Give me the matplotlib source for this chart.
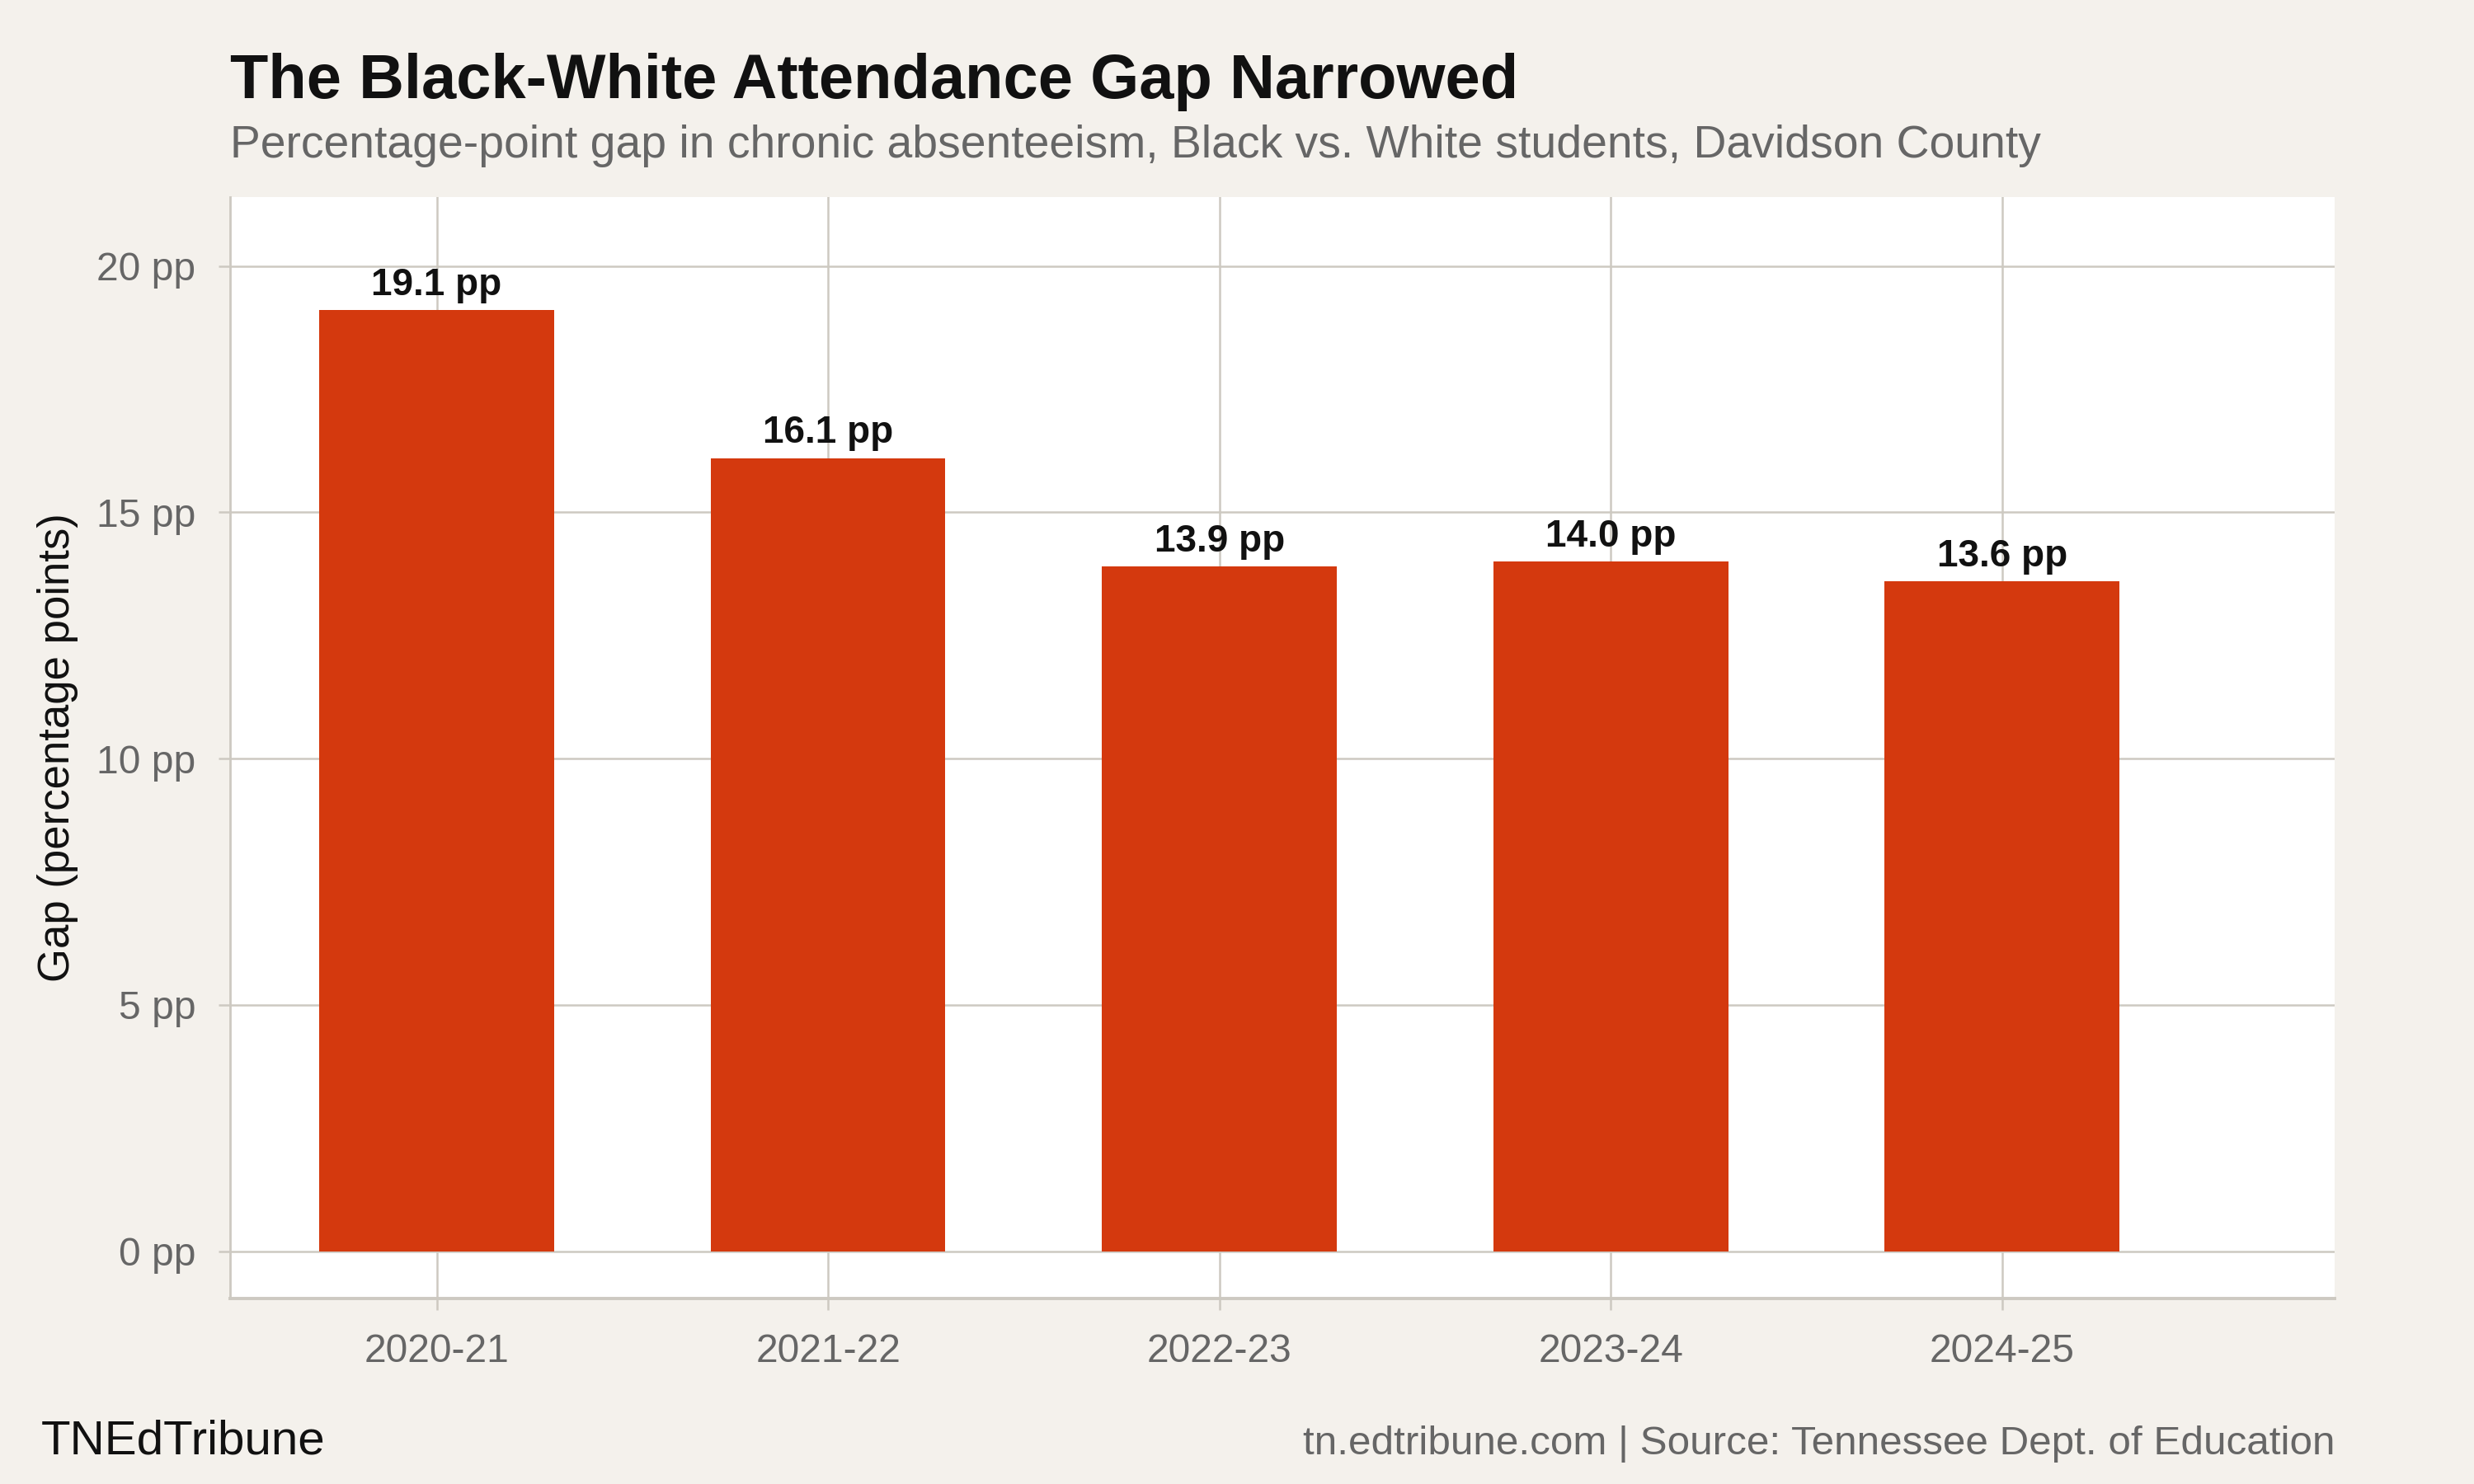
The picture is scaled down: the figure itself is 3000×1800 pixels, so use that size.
import matplotlib
matplotlib.use("Agg")
import matplotlib.pyplot as plt
import numpy as np

plt.rcParams["font.family"] = ["Liberation Sans", "DejaVu Sans"]

# Data
years = ["2020-21", "2021-22", "2022-23", "2023-24", "2024-25"]
gap_pp = [19.1, 16.1, 13.9, 14.0, 13.6]
y_ticks = [0, 5, 10, 15, 20]

BG = "#F4F1EC"
BAR = "#D4390E"
GRID = "#CDC9C1"
DARK = "#111111"
GRAY = "#666666"

fig = plt.figure(figsize=(15, 9), dpi=200, facecolor=BG)
ax = fig.add_axes([0.093, 0.125, 0.8507, 0.7422])
ax.set_facecolor("white")

x = np.arange(len(years))
bars = ax.bar(x, gap_pp, width=0.6, color=BAR, zorder=3)

for xi, v in zip(x, gap_pp):
    ax.annotate(f"{v:.1f} pp", (xi, v), xytext=(0, 3), textcoords="offset points",
                ha="center", va="bottom", fontsize=16.5, fontweight="bold", color=DARK)

ax.set_xlim(-0.528, 4.85)
ax.set_ylim(-0.96, 21.4)
ax.set_xticks(x)
ax.set_xticklabels(years)
ax.set_yticks(y_ticks)
ax.set_yticklabels([f"{t} pp" for t in y_ticks])

ax.grid(True, color=GRID, linewidth=0.9, zorder=0)
ax.set_axisbelow(True)
for s in ["top", "right"]:
    ax.spines[s].set_visible(False)
ax.spines["left"].set_color(GRID)
ax.spines["left"].set_linewidth(1.0)
ax.spines["bottom"].set_color(GRID)
ax.spines["bottom"].set_linewidth(1.4)
ax.tick_params(axis="both", colors=GRID, length=5, width=0.9, labelsize=17.3, labelcolor=GRAY)
ax.tick_params(axis="y", pad=10)
ax.tick_params(axis="x", pad=10)

ax.set_ylabel("Gap (percentage points)", fontsize=19, color=DARK, labelpad=8)

fig.text(0.093, 0.934, "The Black-White Attendance Gap Narrowed", fontsize=27.3,
         fontweight="bold", color=DARK, va="baseline", ha="left")
fig.text(0.093, 0.894, "Percentage-point gap in chronic absenteeism, Black vs. White students, Davidson County",
         fontsize=19.9, color=GRAY, va="baseline", ha="left")
fig.text(0.0167, 0.020, "TNEdTribune", fontsize=21, color=DARK, va="baseline", ha="left")
fig.text(0.9437, 0.020, "tn.edtribune.com | Source: Tennessee Dept. of Education", fontsize=17.8,
         color=GRAY, va="baseline", ha="right")

fig.savefig("out.png", dpi=200, facecolor=BG)
